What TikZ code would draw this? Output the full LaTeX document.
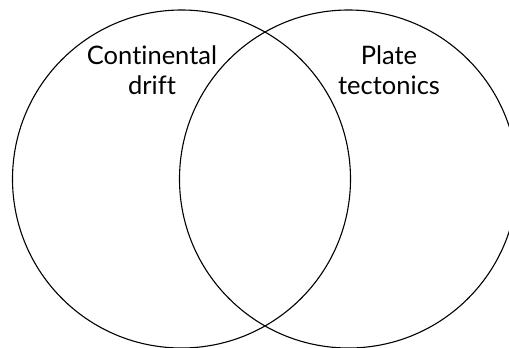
\documentclass[tikz,border=0pt]{standalone}
\usepackage{fontspec}
\setmainfont[Ligatures={NoCommon}]{Lato}
\begin{document}
\begin{tikzpicture}[x=1pt,y=-1pt,
  ring/.style={draw=black,line width=1.1pt},
  lbl/.style={font=\fontsize{25.5}{30}\selectfont,align=center,anchor=base,inner sep=0pt}]
\useasboundingbox (0,0) rectangle (509,348);
\clip (0,0) rectangle (509,348);
\node[ring,circle,minimum size=338pt,inner sep=0pt] (left) at (181.5,179) {};
\node[ring,circle,minimum size=338pt,inner sep=0pt] (right) at (348.5,179) {};
\node[lbl] (cd) at (152,94) {Continental\\drift};
\node[lbl] (pt) at (389,94) {Plate\\tectonics};
\end{tikzpicture}
\end{document}
